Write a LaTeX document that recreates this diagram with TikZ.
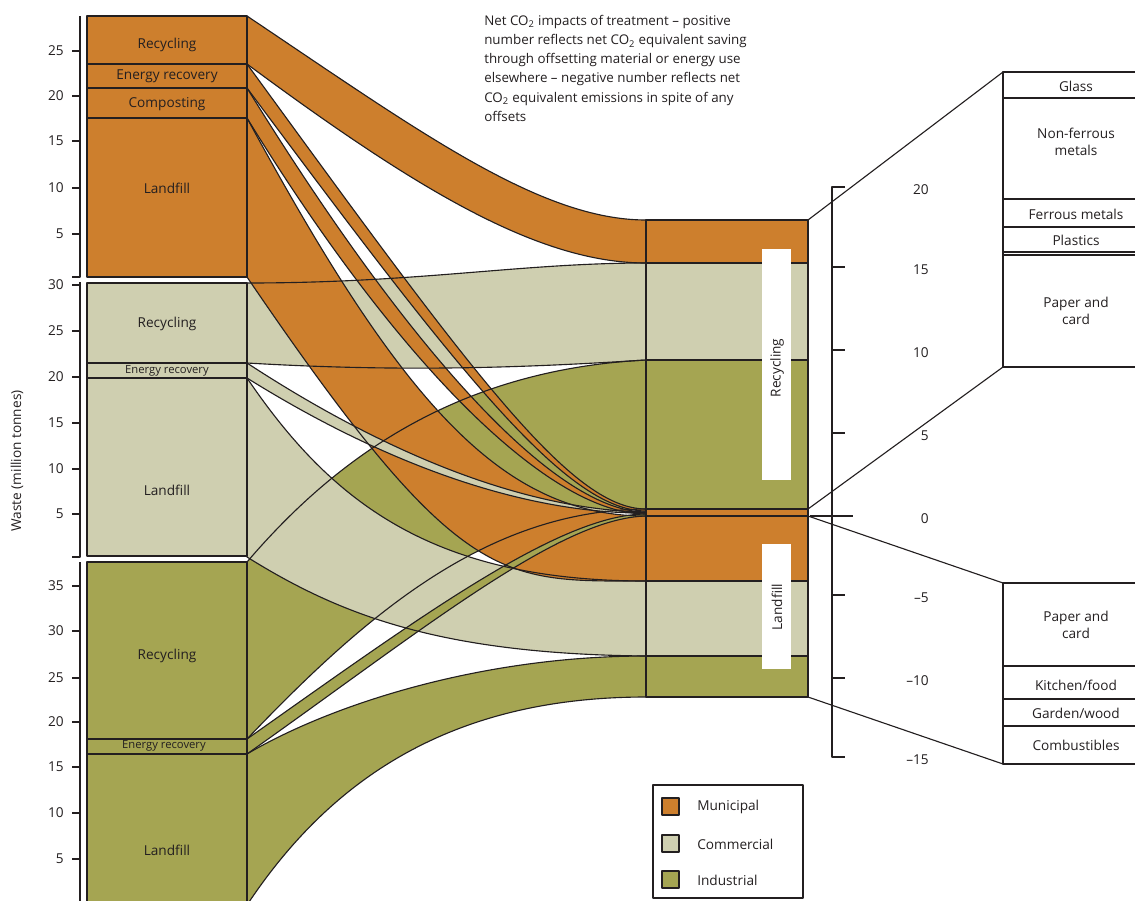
\documentclass[tikz,border=0pt]{standalone}
\usepackage{fontspec}
\setmainfont{Open Sans}
\definecolor{mun}{RGB}{205,127,45}
\definecolor{com}{RGB}{207,207,176}
\definecolor{ind}{RGB}{165,165,82}
\definecolor{ink}{RGB}{35,31,32}
\begin{document}
\begin{tikzpicture}[x=0.025cm,y=-0.025cm,line join=round,
		edge/.style={draw=ink,line width=0.8pt},
		lab/.style={font=\fontsize{9.7}{12}\selectfont,text=ink,inner sep=0pt},
		smalllab/.style={font=\fontsize{8}{10}\selectfont,text=ink,inner sep=0pt},
		note/.style={font=\fontsize{9.5}{13.6}\selectfont,text=ink,inner sep=0pt,align=left}]
	\useasboundingbox (0,0) rectangle (1135,900);
	\path 
	(808,220) coordinate (R1)
	(808,509) coordinate (R2)
	(808,516) coordinate (L1)
	(808,697) coordinate (L2)
	(1003,72) coordinate (P1)
	(1003,367) coordinate (P2)
	(1003,583) coordinate (N1)
	(1003,764) coordinate (N2)
	;
	% flows, bottom layer first
	\path[fill=ind,save path=\pIL] (247,754) .. controls (330,705) and (480,656) .. (646,656) -- (646,697) .. controls (450,697) and (330,780) .. (247,905) -- cycle;
	\path[fill=ind,save path=\pIR] (247,562) .. controls (330,465) and (450,370) .. (646,360) -- (646,509) .. controls (490,510) and (370,610) .. (247,739) -- cycle;
	\path[fill=com,save path=\pCR] (247,283) .. controls (420,283) and (520,263) .. (646,263) -- (646,360) .. controls (520,368) and (400,372) .. (247,363) -- cycle;
	\path[fill=com,save path=\pCL] (247,378) .. controls (330,500) and (430,581) .. (646,581) -- (646,656) .. controls (440,654) and (340,615) .. (247,557) -- cycle;
	\path[fill=mun,save path=\pMR] (247,16) .. controls (420,132) and (540,220) .. (646,220) -- (646,263) .. controls (540,263) and (420,192) .. (247,64) -- cycle;
	\path[fill=mun,save path=\pML] (247,118) .. controls (400,400) and (500,516) .. (646,516) -- (646,581) .. controls (500,581) and (460,590) .. (247,277) -- cycle;
	\path[fill=mun,save path=\pME] (247,64) .. controls (470,370) and (570,509) .. (646,509) -- (646,511) .. controls (565,511) and (455,367) .. (247,88) -- cycle;
	\path[fill=mun,save path=\pMC] (247,88) .. controls (420,368) and (560,512) .. (646,512) -- (646,514) .. controls (550,514) and (400,367) .. (247,118) -- cycle;
	\path[fill=com,save path=\pCE] (247,363) .. controls (380,450) and (520,510) .. (646,512) -- (646,513) .. controls (520,514) and (380,461) .. (247,378) -- cycle;
	\path[fill=ind,save path=\pIE] (247,739) .. controls (420,617) and (560,514) .. (646,514) -- (646,516) .. controls (560,518) and (425,628) .. (247,754) -- cycle;
	\draw[edge,use path=\pIL];
	\draw[edge,use path=\pIR];
	\draw[edge,use path=\pCR];
	\draw[edge,use path=\pCL];
	\draw[edge,use path=\pMR];
	\draw[edge,use path=\pML];
	\draw[edge,use path=\pME];
	\draw[edge,use path=\pMC];
	\draw[edge,use path=\pCE];
	\draw[edge,use path=\pIE];
	% waste by source
	\foreach \ya/\yb/\c in {16/277/mun,283/556/com,562/905/ind}{
		\filldraw[fill=\c,edge] (87,\ya) rectangle (247,\yb);
	};
	\foreach \y in {64,88,118,363,378,739,754}{
		\draw[edge] (87,\y)--(247,\y);
	};
	\foreach \n/\y/\t in {mRec/45/Recycling,mEne/76/Energy recovery,mCom/104/Composting,mLan/188/Landfill,cRec/324/Recycling,cLan/490/Landfill,iRec/656/Recycling,iLan/850/Landfill}{
		\node[lab] (\n) at (167,\y) {\t};
	};
	\node[smalllab] (cEne) at (167,371) {Energy recovery};
	\node[smalllab] (iEne) at (164,746) {Energy recovery};
	\draw[edge] (72,277)--(80,277)--(80,16);
	\draw[edge] (72,557)--(80,557)--(80,282);
	\draw[edge] (80,562)--(80,905);
	\foreach \y/\v in {51/25,96/20,141/15,188/10,234/5,285/30,331/25,377/20,423/15,469/10,514/5,586/35,631/30,678/25,722/20,767/15,813/10,859/5}{
		\draw[edge] (72,\y)--(80,\y);
		\node[lab,anchor=east] (t\y) at (64,\y) {\v};
	};
	\node[lab,rotate=90] (ylab) at (17,461) {Waste (million tonnes)};
	% net CO2 impacts
	\foreach \ya/\yb/\c in {220/263/mun,263/360/com,360/509/ind,509/516/mun,516/581/mun,581/656/com,656/697/ind}{
		\filldraw[fill=\c,edge] (646,\ya) rectangle (808,\yb);
	};
	\fill[white] (762,249) rectangle (791,480);
	\node[lab,rotate=90] (recTag) at (777,368) {Recycling};
	\fill[white] (762,544) rectangle (791,669);
	\node[lab,rotate=90] (lanTag) at (777,607) {Landfill};
	\draw[edge] (845,187)--(832,187)--(832,757)--(845,757);
	\foreach \y in {267,350,433,595,678}{
		\draw[edge] (832,\y)--(845,\y);
	};
	\draw[edge] (810,516)--(853,516);
	\foreach \y/\v in {187/20,267/15,350/10,433/5,516/0,595/--5,678/--10,757/--15}{
		\node[lab,anchor=east] (s\y) at (929,\y+3) {\v};
	};
	% breakdown of recycling and landfill
	\draw[edge] (R1)--(P1);
	\draw[edge] (R2)--(P2);
	\draw[edge] (L1)--(N1);
	\draw[edge] (L2)--(N2);
	\draw[edge] (1135,72)--(P1)--(P2)--(1135,367);
	\draw[edge] (1135,583)--(N1)--(N2)--(1135,764);
	\foreach \y in {98,199,227,252,255,666,699,726}{
		\draw[edge] (1003,\y)--(1135,\y);
	};
	\foreach \n/\y/\t in {gla/86/Glass,nfe/142/Non-ferrous\\metals,fer/214/Ferrous metals,pla/240/Plastics,pap/311/Paper and\\card,lpa/625/Paper and\\card,kit/685/{Kitchen/food},gar/713/{Garden/wood},cmb/745/Combustibles}{
		\node[lab,align=center] (\n) at (1076,\y) {\t};
	};
	% key
	\draw[edge] (653,785) rectangle (803,898);
	\foreach \n/\c/\y/\t in {keyM/mun/806/Municipal,keyC/com/843/Commercial,keyI/ind/879/Industrial}{
		\filldraw[fill=\c,edge] (662,\y-8) rectangle (679,\y+9);
		\node[lab,anchor=west] (\n) at (697,\y+1) {\t};
	};
	\node[note,anchor=north west] (note) at (484,15) {Net CO\textsubscript{2} impacts of treatment -- positive\\number reflects net CO\textsubscript{2} equivalent saving\\through offsetting material or energy use\\elsewhere -- negative number reflects net\\CO\textsubscript{2} equivalent emissions in spite of any\\offsets};
\end{tikzpicture}
\end{document}
